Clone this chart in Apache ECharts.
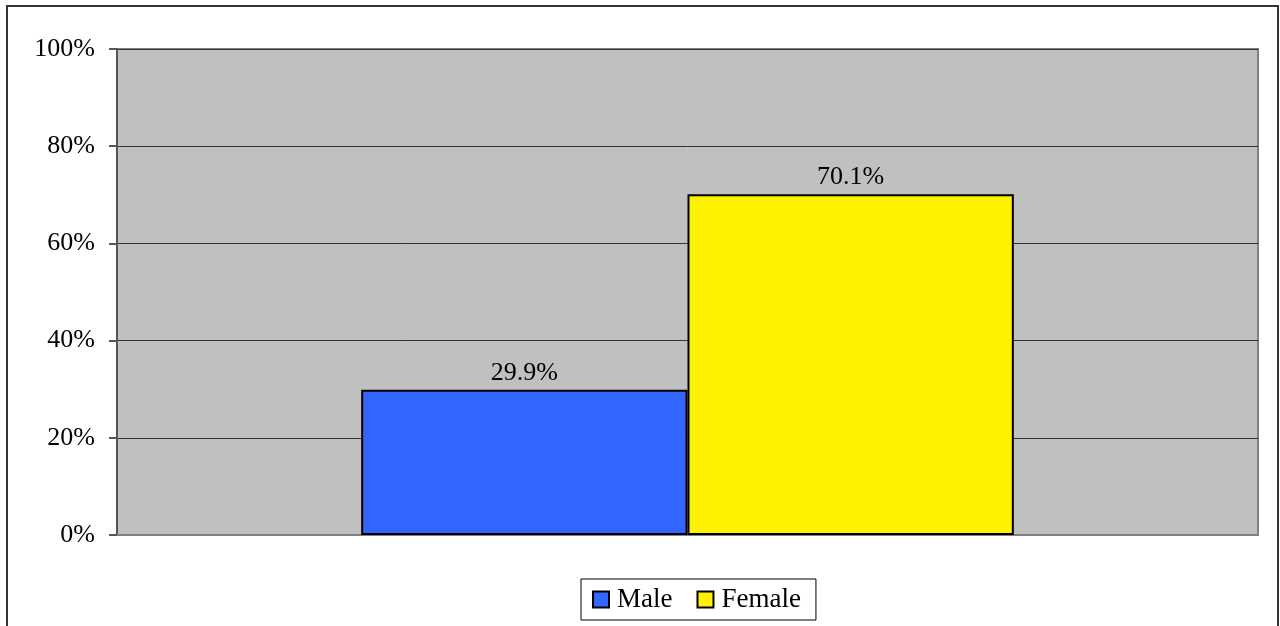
<!DOCTYPE html>
<html>
<head>
<meta charset="utf-8">
<script src="https://cdn.jsdelivr.net/npm/echarts@6/dist/echarts.min.js"></script>
<style>
  html, body { margin: 0; padding: 0; background: #fff; }
  #chart { width: 1280px; height: 626px; }
</style>
</head>
<body>
<div id="chart"></div>
<script>
let categories = [""];
let seriesNames = ["Male", "Female"];
let maleValues = [29.9];
let femaleValues = [70.1];
let seriesColors = ["#3366FF", "#FFF200"];

let font = "'Liberation Serif', 'DejaVu Serif', serif";

let chart = echarts.init(document.getElementById("chart"));

chart.setOption({
  animation: false,
  backgroundColor: "#fff",
  textStyle: { fontFamily: font },
  graphic: [
    {
      type: "rect",
      shape: { x: 7, y: 6, width: 1271, height: 640 },
      style: { fill: "none", stroke: "#333", lineWidth: 2 },
      silent: true,
    },
  ],
  grid: {
    show: true,
    left: 117,
    top: 49,
    right: 22,
    bottom: 91,
    backgroundColor: "#C0C0C0",
    borderColor: "#808080",
    borderWidth: 2,
  },
  legend: {
    bottom: 6,
    left: 581,
    data: seriesNames,
    itemWidth: 16,
    itemHeight: 16,
    itemGap: 24,
    padding: [7, 15, 7, 11],
    borderColor: "#000",
    borderWidth: 1,
    backgroundColor: "#fff",
    itemStyle: { borderColor: "#000", borderWidth: 2 },
    textStyle: { fontFamily: font, fontSize: 27, color: "#000", padding: [0, 0, 0, 3] },
    icon: "rect",
  },
  xAxis: {
    type: "category",
    data: categories,
    axisLine: { show: true, lineStyle: { color: "#808080", width: 2 } },
    axisTick: { show: false },
    axisLabel: { show: false },
  },
  yAxis: {
    type: "value",
    min: 0,
    max: 100,
    interval: 20,
    axisLine: { show: true, lineStyle: { color: "#555", width: 2 } },
    axisTick: { show: true, length: 8, lineStyle: { color: "#555", width: 2 } },
    axisLabel: {
      formatter: "{value}%",
      fontFamily: font,
      fontSize: 26,
      color: "#000",
      margin: 22,
    },
    splitLine: { show: true, lineStyle: { color: "#333", width: 1 } },
  },
  series: [
    {
      name: seriesNames[0],
      type: "bar",
      data: maleValues,
      barGap: "0%",
      barCategoryGap: "42.8%",
      itemStyle: { color: seriesColors[0], borderColor: "#000", borderWidth: 2 },
      label: {
        show: true,
        position: "top",
        formatter: "{c}%",
        fontFamily: font,
        fontSize: 26,
        color: "#000",
        distance: 4,
      },
    },
    {
      name: seriesNames[1],
      type: "bar",
      data: femaleValues,
      itemStyle: { color: seriesColors[1], borderColor: "#000", borderWidth: 2 },
      label: {
        show: true,
        position: "top",
        formatter: "{c}%",
        fontFamily: font,
        fontSize: 26,
        color: "#000",
        distance: 4,
      },
    },
  ],
});
</script>
</body>
</html>
